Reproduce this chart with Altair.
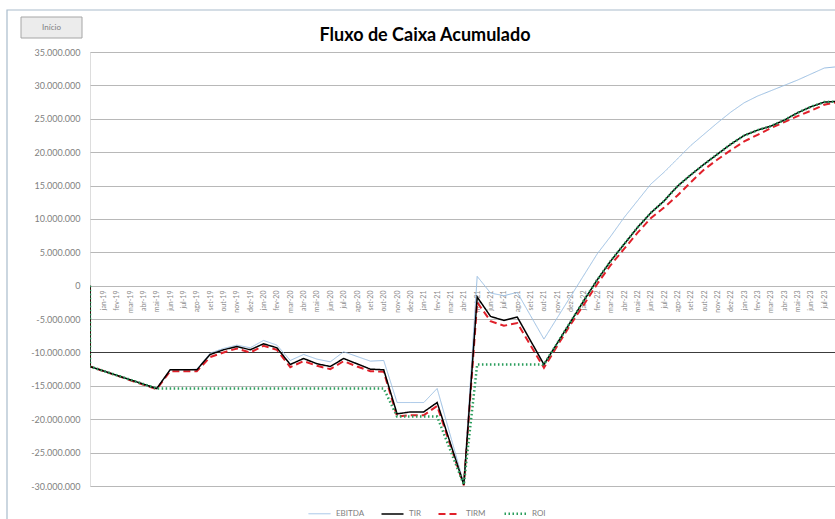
import json
import altair as alt
import pandas as pd

# Meses do eixo (um rótulo por posição 1..55)
nomes_mes = ["jan", "fev", "mar", "abr", "mai", "jun", "jul", "ago", "set", "out", "nov", "dez"]
rotulos = [f"{nomes_mes[i % 12]}-{19 + i // 12}" for i in range(55)]

# Posição no eixo (índice do mês) de cada ponto das séries
t_vals = [0, 0, 5, 6, 7, 8, 9, 10, 11, 12, 13, 14, 15, 16, 17, 18, 19, 20, 21, 22,
          23, 24, 25, 26, 28, 29, 30, 31, 32, 34, 35, 36, 37, 38, 39, 40, 41, 42,
          43, 44, 45, 46, 47, 48, 49, 50, 51, 52, 53, 54, 55, 56]

# Valores acumulados, em milhões de R$
ebitda = [0, -12.1, -15.4, -12.6, -12.6, -12.5, -10.1, -9.4, -8.9, -9.3, -8.2, -8.9,
          -11.2, -10.3, -11.0, -11.4, -9.9, -10.6, -11.3, -11.2, -17.5, -17.5, -17.5,
          -15.4, -29.6, 1.4, -1.1, -1.5, -1.0, -8.0, -4.8, -1.6, 1.6, 4.8, 7.4, 10.2,
          12.7, 15.2, 17.0, 19.0, 21.0, 22.7, 24.4, 26.0, 27.4, 28.4, 29.2, 30.0, 30.8,
          31.7, 32.6, 32.8]
tir = [0, -12.1, -15.4, -12.6, -12.6, -12.6, -10.3, -9.6, -9.1, -9.6, -8.7, -9.3,
       -11.8, -10.9, -11.7, -12.1, -10.9, -11.7, -12.5, -12.6, -19.2, -18.9, -18.9,
       -17.5, -29.8, -1.7, -4.6, -5.2, -4.7, -11.8, -8.6, -5.4, -2.2, 0.9, 3.7, 6.2,
       8.7, 10.9, 12.7, 14.9, 16.6, 18.2, 19.7, 21.2, 22.5, 23.3, 23.9, 24.8, 25.9,
       26.8, 27.5, 27.6]
tirm = [0, -12.1, -15.5, -12.8, -12.8, -12.8, -10.7, -10.0, -9.4, -10.0, -9.0, -9.6,
        -12.2, -11.3, -12.0, -12.5, -11.3, -12.1, -12.8, -12.9, -19.6, -19.4, -19.4,
        -18.0, -29.9, -2.5, -5.3, -6.0, -5.6, -12.3, -9.0, -5.8, -2.8, 0.3, 3.1, 5.5,
        7.9, 10.1, 11.7, 13.5, 15.5, 17.4, 18.9, 20.3, 21.6, 22.6, 23.6, 24.5, 25.4,
        26.2, 27.1, 27.5]
roi = [0, -12.1, -15.4, -15.4, -15.4, -15.4, -15.4, -15.4, -15.4, -15.4, -15.4, -15.4,
       -15.4, -15.4, -15.4, -15.4, -15.4, -15.4, -15.4, -15.4, -19.6, -19.6, -19.6,
       -19.6, -29.8, -11.8, -11.8, -11.8, -11.8, -11.8, -8.6, -5.4, -2.2, 0.9, 3.7, 6.2,
       8.7, 10.9, 12.7, 14.9, 16.6, 18.2, 19.7, 21.2, 22.5, 23.3, 23.9, 24.8, 25.9,
       26.8, 27.5, 27.6]

series = ["EBITDA", "TIR", "TIRM", "ROI"]
cores = ["#9bbfe3", "#000000", "#e0202a", "#2a9d5c"]
espessuras = [1, 2.5, 2.5, 1.5]
tracos = [[1, 0], [1, 0], [7, 4], [1.5, 2.5]]

linhas = []
for nome, vals in zip(series, [ebitda, tir, tirm, roi]):
    for i, (t, v) in enumerate(zip(t_vals, vals)):
        linhas.append({"serie": nome, "t": t, "valor": v * 1e6, "ordem": i})
df = pd.DataFrame(linhas)

W, H = 745, 434
fonte = "Lato"

y_label = ("replace(replace(replace(format(datum.value, ',d'), ',', '.'), ',', '.'), "
           "'\u2212', '-')")
x_label = f"{json.dumps(rotulos)}[datum.value - 1]"

legenda = alt.Legend(
    title=None, orient="none", direction="horizontal", columns=4,
    legendX=217, legendY=449, symbolType="stroke", symbolSize=484,
    labelFontSize=8, labelColor="#7f7f7f", labelFont=fonte, columnPadding=13,
    labelOffset=4,
)

enc = dict(
    x=alt.X("t:Q",
            scale=alt.Scale(domain=[0, 55.8], nice=False, zero=False),
            axis=alt.Axis(values=list(range(1, 56)), labelExpr=x_label, labelAngle=270,
                          orient="bottom", offset=-200, grid=False, domain=False,
                          ticks=False, labelFontSize=7, labelColor="#8a8a8a",
                          labelFont=fonte, labelPadding=4, labelOverlap=False,
                          labelFlush=False, title=None)),
    y=alt.Y("valor:Q",
            scale=alt.Scale(domain=[-30e6, 35e6], nice=False),
            axis=alt.Axis(values=[v * 1e6 for v in range(-30, 36, 5)], labelExpr=y_label,
                          grid=True,
                          gridColor=alt.condition("datum.value == -10000000",
                                                  alt.value("#3c3c3c"), alt.value("#b8b8b8")),
                          domain=False, ticks=False, labelFontSize=9,
                          labelColor="#7f7f7f", labelFont=fonte, labelPadding=10,
                          title=None)),
    color=alt.Color("serie:N", scale=alt.Scale(domain=series, range=cores), legend=legenda),
    strokeDash=alt.StrokeDash("serie:N", scale=alt.Scale(domain=series, range=tracos),
                              legend=legenda),
    strokeWidth=alt.StrokeWidth("serie:N", scale=alt.Scale(domain=series, range=espessuras),
                                legend=legenda),
    order=alt.Order("ordem:Q"),
)

base = alt.Chart(df).mark_line(clip=True).encode(**enc)
camadas = [base.transform_filter(alt.datum.serie == s) for s in ["EBITDA", "TIRM", "TIR", "ROI"]]

# Moldura do gráfico, título e botão "Início"
unico = alt.Data(values=[{"k": 1}])
moldura = alt.Chart(unico).mark_rect(fill=None, stroke="#a9bccc", strokeWidth=1.2).encode(
    x=alt.value(-83), x2=alt.value(760), y=alt.value(-42), y2=alt.value(480))
titulo = alt.Chart(unico).mark_text(fontSize=18, fontWeight="bold", color="#000000",
                                    font=fonte, baseline="middle").encode(
    x=alt.value(335), y=alt.value(-16), text=alt.value("Fluxo de Caixa Acumulado"))
botao = alt.Chart(unico).mark_rect(fill="#ececec", stroke="#a6a6a6", strokeWidth=1).encode(
    x=alt.value(-69), x2=alt.value(-8), y=alt.value(-35), y2=alt.value(-14))
botao_txt = alt.Chart(unico).mark_text(fontSize=8, color="#7f7f7f", font=fonte).encode(
    x=alt.value(-38.5), y=alt.value(-24.5), text=alt.value("Início"))

chart = alt.layer(moldura, *camadas, titulo, botao, botao_txt).properties(
    width=W, height=H,
    autosize=alt.AutoSizeParams(type="none"),
    padding={"left": 90, "top": 52, "right": 0, "bottom": 33},
).configure_view(stroke=None).configure(background="white")

chart.save("out.html", embed_options={"renderer": "svg", "actions": False})
